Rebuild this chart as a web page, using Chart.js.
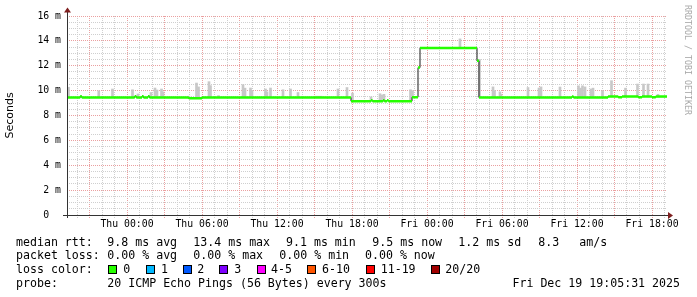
<!DOCTYPE html>
<html>
<head>
<meta charset="utf-8">
<script src="https://cdn.jsdelivr.net/npm/chart.js@4.4.1/dist/chart.umd.min.js"></script>
<style>
  html, body { margin: 0; padding: 0; background: #fff; }
  #wrap { position: relative; width: 697px; height: 297px; overflow: hidden; }
  #graph { position: absolute; left: 0; top: 0; }
  .txt { position: absolute; height: 14px; line-height: 14px; font-family: 'DejaVu Sans Mono', monospace; font-size: 11.6px; color: #000; white-space: pre; }
  .box { position: absolute; width: 7px; height: 7px; border: 1px solid #000; }
  #mark { position: absolute; left: 693px; top: 5px; transform-origin: 0 0; transform: rotate(90deg);
          font-family: 'DejaVu Sans Mono', monospace; font-size: 8.3px; line-height: 10px; color: #a8a8a8; white-space: pre; }
</style>
</head>
<body>
<div id="wrap">
  <canvas id="graph" width="697" height="297"></canvas>
  <div id="mark">RRDTOOL / TOBI OETIKER</div>
</div>
<script>
// hours relative to Thu 00:00, values in ms
const startHour = -4.8;
const endHour = 43.2;

const xLabelHours = [0, 6, 12, 18, 24, 30, 36, 42];
const xLabelText = ['Thu 00:00', 'Thu 06:00', 'Thu 12:00', 'Thu 18:00', 'Fri 00:00', 'Fri 06:00', 'Fri 12:00', 'Fri 18:00'];
const yLabelValues = [0, 2, 4, 6, 8, 10, 12, 14, 16];
const yLabelText = ['0  ', '2 m', '4 m', '6 m', '8 m', '10 m', '12 m', '14 m', '16 m'];

// median rtt, held from each hour until the next one
const medianHours = [-4.8, -3.74, -3.62, 0.62, 0.74, 1.2, 1.32, 1.68, 1.8, 4.94, 6.0, 17.92, 19.52, 19.64,
  20.48, 20.6, 20.8, 20.92, 22.8, 23.28, 23.44, 28.0, 28.16, 35.6, 35.72, 38.48, 39.3, 39.6, 40.9, 41.2, 42.0, 42.3];
const medianValues = [9.45, 9.55, 9.45, 9.55, 9.45, 9.55, 9.45, 9.55, 9.45, 9.38, 9.45, 9.15, 9.22, 9.15,
  9.22, 9.15, 9.22, 9.15, 9.47, 11.85, 13.42, 12.4, 9.45, 9.52, 9.45, 9.53, 9.47, 9.53, 9.47, 9.53, 9.47, 9.52];

// smoke (spread of the pings) above the median
const smokeHours = [-4.68, -2.26, -1.16, 0.44, 0.88, 1.92, 2.24, 2.4, 2.76, 2.88, 4.96, 5.56, 5.72, 6.56, 6.68, 7.32,
  9.28, 9.44, 9.88, 10.0, 11.08, 11.2, 11.48, 12.48, 13.08, 13.68, 15.12, 15.32, 15.52, 16.88, 17.6,
  18.04, 19.52, 20.24, 20.4, 20.56, 22.68, 22.84, 26.64, 28.2, 29.28, 29.4, 29.84, 29.92, 32.08, 32.96, 33.12,
  34.64, 36.12, 36.28, 36.44, 36.64, 37.12, 37.28, 38.04, 38.76, 39.88, 40.84, 41.32, 41.68, 42.48];
const smokeLow = [9.45, 9.45, 9.45, 9.45, 9.45, 9.45, 9.45, 9.45, 9.45, 9.45, 9.38, 9.38, 9.38, 9.45, 9.45, 9.45,
  9.45, 9.45, 9.45, 9.45, 9.45, 9.45, 9.45, 9.45, 9.45, 9.45, 9.45, 9.45, 9.45, 9.45, 9.45,
  9.15, 9.15, 9.15, 9.15, 9.15, 9.15, 9.45, 13.42, 9.45, 9.45, 9.45, 9.45, 9.45, 9.45, 9.45, 9.45,
  9.45, 9.45, 9.45, 9.45, 9.45, 9.45, 9.45, 9.45, 9.5, 9.5, 9.5, 9.5, 9.5, 9.5];
const smokeHigh = [10.27, 9.99, 10.13, 10.07, 9.73, 9.85, 10.21, 10.05, 10.13, 9.9, 9.55, 10.61, 10.3, 10.72, 10.4, 9.6,
  10.48, 10.2, 10.21, 10.0, 10.13, 9.9, 10.21, 10.07, 10.13, 9.85, 9.55, 9.55, 9.55, 10.13, 10.25,
  9.8, 9.5, 9.75, 9.65, 9.7, 10.07, 10.0, 14.16, 12.5, 10.3, 10.0, 9.9, 9.7, 10.25, 10.21, 10.3,
  10.29, 10.39, 10.2, 10.39, 10.3, 10.13, 10.2, 9.99, 10.8, 10.2, 10.53, 10.53, 10.53, 9.7];

const statRows = [
  ['median rtt:', '9.8 ms avg', '13.4 ms max', '9.1 ms min', '9.5 ms now', '1.2 ms sd', '8.3', 'am/s'],
  ['packet loss:', '0.00 % avg', '0.00 % max', '0.00 % min', '0.00 % now']
];
const lossLabels = ['0', '1', '2', '3', '4-5', '6-10', '11-19', '20/20'];
const lossColors = ['#26ff00', '#00b8ff', '#0059ff', '#7e00ff', '#ff00ff', '#ff5500', '#ff0000', '#a10000'];
const probeText = '20 ICMP Echo Pings (56 Bytes) every 300s';
const stampText = 'Fri Dec 19 19:05:31 2025';

const smoke = smokeHours.map((h, i) => ({ x: h, y: [smokeLow[i], smokeHigh[i]] }));
const darkPts = medianHours.map((h, i) => ({ x: h, y: medianValues[i] }));
darkPts.push({ x: endHour, y: medianValues[medianValues.length - 1] });
const greenPts = [];
medianHours.forEach((h, i) => {
  const next = i + 1 < medianHours.length ? medianHours[i + 1] : endHour;
  greenPts.push({ x: h, y: medianValues[i] }, { x: next, y: medianValues[i] }, { x: next, y: null });
});

const minorGrid = '#cfcfcf';
const majorGrid = '#eaa0a0';

const axesPlugin = {
  id: 'axes',
  afterDatasetsDraw(chart) {
    const { ctx, chartArea: a } = chart;
    ctx.save();
    ctx.strokeStyle = '#333';
    ctx.lineWidth = 1;
    ctx.beginPath();
    ctx.moveTo(a.left + 0.5, a.bottom + 3);
    ctx.lineTo(a.left + 0.5, a.top - 4);
    ctx.moveTo(a.left - 4, a.bottom + 0.5);
    ctx.lineTo(a.right + 2, a.bottom + 0.5);
    ctx.stroke();
    ctx.fillStyle = '#7f1f1f';
    ctx.beginPath();
    ctx.moveTo(a.left - 3, a.top - 3.5);
    ctx.lineTo(a.left + 4, a.top - 3.5);
    ctx.lineTo(a.left + 0.5, a.top - 8.5);
    ctx.closePath();
    ctx.fill();
    ctx.beginPath();
    ctx.moveTo(a.right + 1, a.bottom - 3);
    ctx.lineTo(a.right + 1, a.bottom + 4);
    ctx.lineTo(a.right + 6, a.bottom + 0.5);
    ctx.closePath();
    ctx.fill();
    ctx.restore();
  }
};

new Chart(document.getElementById('graph').getContext('2d'), {
  data: {
    datasets: [
      {
        type: 'bar',
        data: smoke,
        backgroundColor: '#c8c8c8',
        barThickness: 2,
        order: 3
      },
      {
        type: 'line',
        data: darkPts,
        borderColor: '#1c1c1c',
        borderWidth: 1,
        stepped: true,
        pointRadius: 0,
        order: 2
      },
      {
        type: 'line',
        data: greenPts,
        borderColor: '#26ff00',
        borderWidth: 2.5,
        borderCapStyle: 'butt',
        pointRadius: 0,
        spanGaps: false,
        order: 1
      }
    ]
  },
  options: {
    responsive: false,
    animation: false,
    devicePixelRatio: 1,
    layout: { padding: { left: 0, right: 30, top: 16, bottom: 0 } },
    plugins: { legend: { display: false }, tooltip: { enabled: false } },
    scales: {
      x: {
        type: 'linear',
        min: startHour,
        max: endHour,
        offset: false,
        afterBuildTicks: (s) => {
          const t = [];
          for (let h = Math.ceil(startHour); h <= Math.floor(endHour); h++) t.push({ value: h });
          s.ticks = t;
        },
        afterFit: (s) => { s.height = 82; s.paddingLeft = 0; s.paddingRight = 0; },
        grid: {
          offset: false,
          color: (c) => (((c.tick.value % 3) + 3) % 3 === 0 ? majorGrid : minorGrid),
          tickLength: 3,
          tickBorderDash: [1, 1]
        },
        border: { display: false, dash: [1, 1] },
        ticks: {
          autoSkip: false,
          maxRotation: 0,
          padding: 1,
          color: '#000',
          font: { family: 'DejaVu Sans Mono', size: 9.8 },
          callback: (v) => {
            const i = xLabelHours.indexOf(v);
            return i >= 0 ? xLabelText[i] : '';
          }
        }
      },
      y: {
        min: 0,
        max: 16,
        afterBuildTicks: (s) => {
          const t = [];
          for (let v = 0; v <= 16; v += 0.5) t.push({ value: v });
          s.ticks = t;
        },
        afterFit: (s) => { s.width = 67; s.paddingTop = 0; s.paddingBottom = 0; },
        grid: {
          color: (c) => (c.tick.value % 2 === 0 ? majorGrid : minorGrid),
          drawTicks: false
        },
        border: { display: false, dash: [1, 1] },
        title: {
          display: true,
          text: 'Seconds',
          color: '#000',
          font: { family: 'DejaVu Sans', size: 11 },
          padding: { top: 4, bottom: 0 }
        },
        ticks: {
          autoSkip: false,
          padding: 6,
          color: '#000',
          font: { family: 'DejaVu Sans Mono', size: 9.8 },
          callback: (v) => {
            const i = yLabelValues.indexOf(v);
            return i >= 0 ? yLabelText[i] : '';
          }
        }
      }
    }
  },
  plugins: [axesPlugin]
});

// legend text under the graph
const wrap = document.getElementById('wrap');
function addText(text, left, centerY) {
  const d = document.createElement('div');
  d.className = 'txt';
  d.textContent = text;
  d.style.left = left + 'px';
  d.style.top = (centerY - 7) + 'px';
  wrap.appendChild(d);
  return d;
}
const statX = [[16, 107.3, 193.3, 286, 372.3, 458.3, 538.3, 579.3], [16, 107.3, 193.3, 279.3, 365]];
const rowY = [241.5, 255.3, 269.3, 283.3];
statRows.forEach((row, r) => row.forEach((t, i) => addText(t, statX[r][i], rowY[r])));

addText('loss color:', 16, rowY[2]);
const boxX = [108, 145.5, 182.5, 219.3, 256.5, 307.3, 365.5, 430.5];
const boxLabelX = [123.3, 161, 197.3, 234.3, 271, 322, 380.7, 445.3];
lossLabels.forEach((lab, i) => {
  const b = document.createElement('div');
  b.className = 'box';
  b.style.left = boxX[i] + 'px';
  b.style.top = '265px';
  b.style.background = lossColors[i];
  wrap.appendChild(b);
  addText(lab, boxLabelX[i], rowY[2]);
});

addText('probe:', 16, rowY[3]);
addText(probeText, 107.3, rowY[3]);
const stamp = addText(stampText, 0, rowY[3]);
stamp.style.left = 'auto';
stamp.style.right = '17px';
</script>
</body>
</html>
